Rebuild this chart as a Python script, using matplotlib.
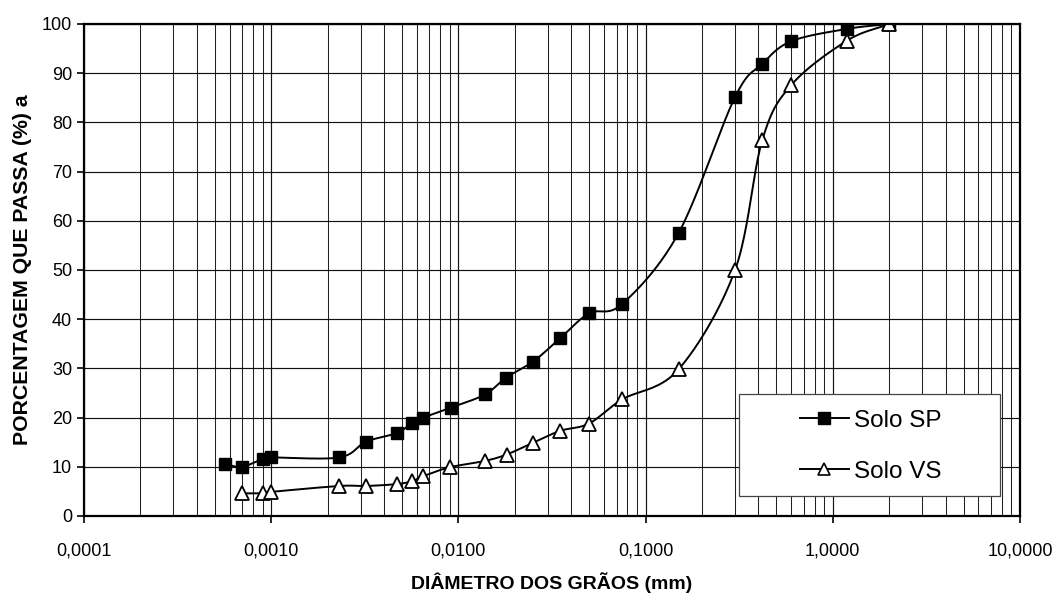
import numpy as np
import matplotlib
matplotlib.use("Agg")
import matplotlib.pyplot as plt
from matplotlib.patches import Rectangle
from matplotlib.ticker import FixedLocator, FixedFormatter, LogLocator, NullFormatter

plt.rcParams['font.family'] = ['Liberation Sans', 'DejaVu Sans']

# ---- data ----
sp_d = [0.00057, 0.00070, 0.00090, 0.00100, 0.00231, 0.00321, 0.00472, 0.00567,
        0.00650, 0.00908, 0.01387, 0.01795, 0.0251, 0.0349, 0.0499, 0.075, 0.15,
        0.30, 0.42, 0.60, 1.19, 2.0]
sp_p = [10.5, 10.0, 11.6, 11.9, 11.9, 15.1, 16.9, 19.0, 20.0, 22.0, 24.7, 28.1,
        31.4, 36.1, 41.2, 43.1, 57.5, 85.1, 91.9, 96.5, 99.0, 100.0]

vs_d = [0.00070, 0.00090, 0.00100, 0.00231, 0.00321, 0.00472, 0.00567, 0.00650,
        0.00898, 0.01387, 0.0181, 0.0251, 0.0349, 0.0499, 0.075, 0.15, 0.30,
        0.42, 0.60, 1.19, 2.0]
vs_p = [4.6, 4.6, 4.9, 6.1, 6.1, 6.5, 7.1, 8.1, 9.9, 11.2, 12.5, 14.9, 17.3,
        18.8, 23.7, 29.8, 49.9, 76.4, 87.6, 96.6, 100.0]

x_ticks = [0.0001, 0.001, 0.01, 0.1, 1, 10]
x_labels = ["0,0001", "0,0010", "0,0100", "0,1000", "1,0000", "10,0000"]
y_ticks = list(range(0, 101, 10))

series_names = ["Solo SP", "Solo VS"]


def smooth(xs, ys, n=24, sx=187.2, sy=4.92):
    """Catmull-Rom smoothing (like Excel smoothed lines) in screen-like space."""
    u = np.log10(np.asarray(xs, float)) * sx
    v = np.asarray(ys, float) * sy
    P = np.column_stack([u, v])
    P = np.vstack([2 * P[0] - P[1], P, 2 * P[-1] - P[-2]])
    out = []
    t = np.linspace(0, 1, n)[:, None]
    for i in range(1, len(P) - 2):
        p0, p1, p2, p3 = P[i - 1], P[i], P[i + 1], P[i + 2]
        seg = 0.5 * ((2 * p1) + (-p0 + p2) * t + (2 * p0 - 5 * p1 + 4 * p2 - p3) * t ** 2
                     + (-p0 + 3 * p1 - 3 * p2 + p3) * t ** 3)
        out.append(seg if i == 1 else seg[1:])
    S = np.vstack(out)
    return 10 ** (S[:, 0] / sx), S[:, 1] / sy


fig = plt.figure(figsize=(10.58, 5.96), dpi=100)
ax = fig.add_axes([84 / 1058, 80 / 596, 936 / 1058, 492 / 596])
ax.set_xscale('log')
ax.set_xlim(0.0001, 10)
ax.set_ylim(0, 100)

# grid
ax.xaxis.set_major_locator(FixedLocator(x_ticks))
ax.xaxis.set_major_formatter(FixedFormatter(x_labels))
ax.xaxis.set_minor_locator(LogLocator(base=10, subs=np.arange(2, 10), numticks=100))
ax.xaxis.set_minor_formatter(NullFormatter())
ax.set_yticks(y_ticks)
ax.grid(True, which='major', axis='both', color='#111111', lw=0.85, zorder=0)
ax.grid(True, which='minor', axis='x', color='#222222', lw=0.75, zorder=0)
ax.set_axisbelow(True)

# series
xs, ys = smooth(sp_d, sp_p)
ax.plot(xs, ys, color='black', lw=1.4, zorder=3)
ax.plot(sp_d, sp_p, linestyle='none', marker='s', markersize=9.2,
        markerfacecolor='black', markeredgecolor='black', zorder=4)
xs, ys = smooth(vs_d, vs_p)
ax.plot(xs, ys, color='black', lw=1.4, zorder=3)
ax.plot(vs_d, vs_p, linestyle='none', marker='^', markersize=9.5,
        markerfacecolor='white', markeredgecolor='black', markeredgewidth=1.3, zorder=4)

# legend proxies
h1, = ax.plot([], [], color='black', lw=1.4, marker='s', markersize=8,
              markerfacecolor='black', markeredgecolor='black')
h2, = ax.plot([], [], color='black', lw=1.4, marker='^', markersize=8,
              markerfacecolor='white', markeredgecolor='black', markeredgewidth=1.2)

frame = Rectangle((0.700, 0.041), 0.279, 0.207, transform=ax.transAxes,
                  facecolor='white', edgecolor='#444444', lw=0.9, zorder=5)
ax.add_patch(frame)
leg = ax.legend([h1, h2], series_names, loc='center left',
                bbox_to_anchor=(0.765, 0.142), frameon=False, borderpad=0,
                borderaxespad=0, handlelength=2.0, handletextpad=0.2,
                labelspacing=1.2, fontsize=17.5)
leg.set_zorder(6)

# spines and ticks
for s in ax.spines.values():
    s.set_linewidth(1.6)
    s.set_color('black')
    s.set_zorder(7)
ax.tick_params(axis='both', which='major', direction='out', length=5, width=1.2,
               labelsize=13, colors='black')
ax.tick_params(axis='x', which='major', pad=14)
ax.tick_params(axis='x', which='minor', length=0)

ax.set_xlabel("DIÂMETRO DOS GRÃOS (mm)", fontsize=14, fontweight='bold', labelpad=9)
ax.set_ylabel("PORCENTAGEM QUE PASSA (%) a", fontsize=15.3, fontweight='bold', labelpad=7)

fig.savefig("out.png", dpi=100)
